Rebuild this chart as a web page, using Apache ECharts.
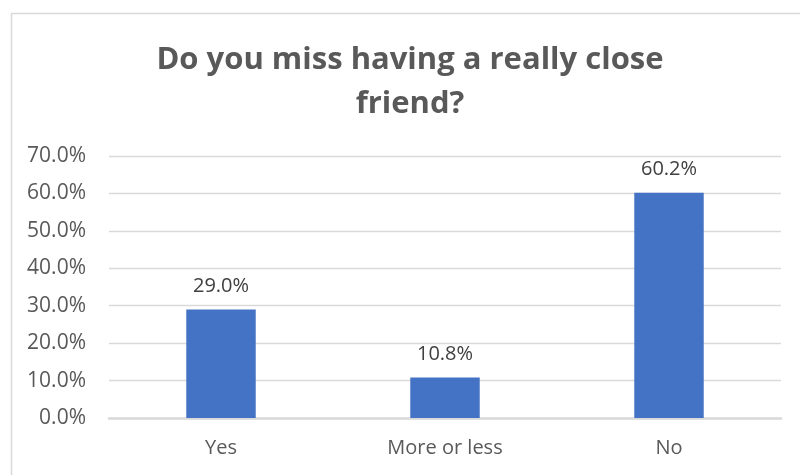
<!DOCTYPE html>
<html>
<head>
<meta charset="utf-8">
<script src="https://cdn.jsdelivr.net/npm/echarts@6/dist/echarts.min.js"></script>
<style>
  html, body { margin: 0; padding: 0; background: #fff; }
  #chart { width: 800px; height: 475px; }
</style>
</head>
<body>
<div id="chart"></div>
<script>
// Survey answers and their shares (percent)
var categories = ['Yes', 'More or less', 'No'];
var shares = [29.0, 10.8, 60.2];
var titleText = 'Do you miss having a really close\nfriend?';

var FONT = '"Open Sans", "Noto Sans", sans-serif';
var chart = echarts.init(document.getElementById('chart'), null, { renderer: 'canvas' });

chart.setOption({
  animation: false,
  backgroundColor: '#ffffff',
  title: {
    text: titleText,
    left: 405,
    top: 33,
    textAlign: 'center',
    textStyle: {
      fontFamily: FONT,
      fontWeight: 'bold',
      fontSize: 31,
      color: '#595959',
      lineHeight: 44
    }
  },
  graphic: [{
    type: 'rect',
    left: 9, top: 11,
    shape: { x: 0, y: 0, width: 820, height: 490 },
    style: { fill: 'none', stroke: '#d9d9d9', lineWidth: 1.5 },
    silent: true
  }],
  grid: { left: 109, right: 19, top: 156, bottom: 57, containLabel: false },
  xAxis: {
    type: 'category',
    data: categories,
    axisLine: { show: true, lineStyle: { color: '#d9d9d9', width: 2.5 } },
    axisTick: { show: false },
    axisLabel: { fontFamily: FONT, fontSize: 20, color: '#595959', margin: 20 }
  },
  yAxis: {
    type: 'value',
    min: 0, max: 70, interval: 10,
    axisLine: { show: false },
    axisTick: { show: false },
    splitLine: { lineStyle: { color: '#d9d9d9', width: 1.3 } },
    axisLabel: {
      fontFamily: FONT, fontSize: 21, color: '#595959', margin: 23,
      formatter: function (v) { return v.toFixed(1) + '%'; }
    }
  },
  series: [{
    type: 'bar',
    data: shares,
    barWidth: '31%',
    itemStyle: { color: '#4472c4' },
    label: {
      show: true,
      position: 'top',
      distance: 13,
      fontFamily: FONT,
      fontSize: 20,
      color: '#404040',
      formatter: function (p) { return p.value.toFixed(1) + '%'; }
    }
  }]
});
</script>
</body>
</html>
